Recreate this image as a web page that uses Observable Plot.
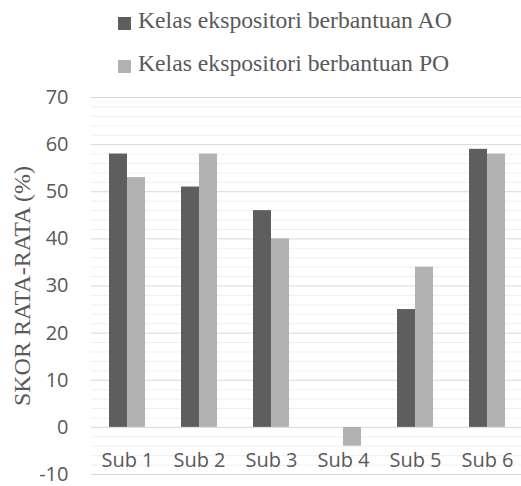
<!DOCTYPE html>
<html>
<head>
<meta charset="utf-8">
<script src="https://cdn.jsdelivr.net/npm/d3@7"></script>
<script src="https://cdn.jsdelivr.net/npm/@observablehq/plot@0.6"></script>
<style>
  body { margin: 0; background: #fff; }
  #wrap { width: 521px; height: 486px; position: relative; overflow: hidden; }
  #legend { position: relative; height: 75px; font-family: "Liberation Serif", "Times New Roman", serif; font-size: 23.7px; color: #595959; }
  .item { position: absolute; left: 118px; line-height: 24px; white-space: nowrap; }
  .sw { display: inline-block; width: 13px; height: 13px; margin-right: 7px; vertical-align: baseline; position: relative; top: 2px; }
  svg { display: block; }
</style>
</head>
<body>
<div id="wrap">
  <div id="legend"></div>
  <div id="chart"></div>
</div>
<script>
const categories = ["Sub 1", "Sub 2", "Sub 3", "Sub 4", "Sub 5", "Sub 6"];
const seriesKeys = ["AO", "PO"];
const seriesNames = ["Kelas ekspositori berbantuan AO", "Kelas ekspositori berbantuan PO"];
const aoValues = [58, 51, 46, 0, 25, 59];
const poValues = [53, 58, 40, -4, 34, 58];
const yTicks = [-10, 0, 10, 20, 30, 40, 50, 60, 70];
const yLabel = "SKOR RATA-RATA (%)";
const colors = ["#5e5e5e", "#b2b2b2"];

const minorTicks = d3.range(-10, 71, 2).filter(v => v % 10 !== 0);

const data = categories.flatMap((c, i) => [
  {cat: c, series: "AO", value: aoValues[i]},
  {cat: c, series: "PO", value: poValues[i]}
]);

// Legend
const legend = document.getElementById("legend");
const tops = [8, 51];
seriesNames.forEach((name, i) => {
  const it = document.createElement("div");
  it.className = "item";
  it.style.top = tops[i] + "px";
  const sw = document.createElement("span");
  sw.className = "sw";
  sw.style.background = colors[i];
  const tx = document.createElement("span");
  tx.textContent = name;
  it.appendChild(sw);
  it.appendChild(tx);
  legend.appendChild(it);
});

const chart = Plot.plot({
  width: 521,
  height: 411,
  marginLeft: 90,
  marginRight: -3,
  marginTop: 22,
  marginBottom: 12,
  style: {background: "#fff", overflow: "hidden"},
  fx: {domain: categories, padding: 0, axis: null},
  x: {domain: seriesKeys, paddingInner: 0, paddingOuter: 1, axis: null},
  y: {domain: [-10, 70], axis: null},
  color: {domain: seriesKeys, range: colors},
  marks: [
    Plot.ruleY(minorTicks, {stroke: "#f0f0f0", strokeWidth: 1}),
    Plot.ruleY(yTicks, {stroke: "#d9d9d9", strokeWidth: 1}),
    Plot.barY(data, {fx: "cat", x: "series", y: "value", fill: "series"}),
    Plot.text(categories, {
      fx: d => d, text: d => d, frameAnchor: "bottom", lineAnchor: "bottom", dy: -8,
      fontSize: 20, fontFamily: "Open Sans, sans-serif", fill: "#595959"
    }),
    Plot.axisY(yTicks, {
      tickSize: 0, tickPadding: 23, fontSize: 20, fontFamily: "Open Sans, sans-serif",
      fill: "#595959", label: null, tickFormat: d => String(d)
    }),
    Plot.axisY({
      ticks: [], tickSize: 0, label: yLabel, labelAnchor: "center", labelArrow: "none",
      labelOffset: 79, fontSize: 24, fontFamily: "Liberation Serif, Times New Roman, serif",
      fill: "#595959"
    })
  ]
});
document.getElementById("chart").appendChild(chart);
</script>
</body>
</html>
